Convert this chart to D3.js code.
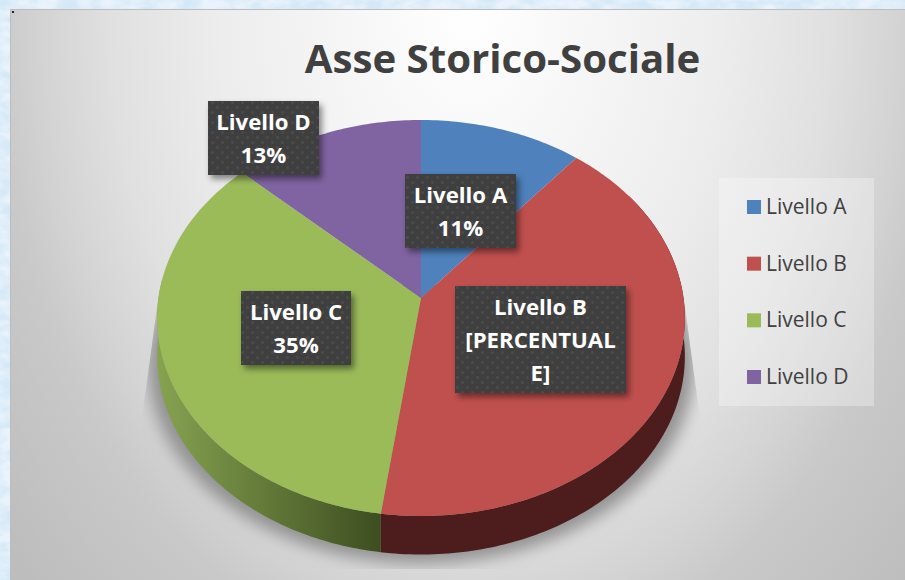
<!DOCTYPE html>
<html><head><meta charset="utf-8">
<script src="https://cdn.jsdelivr.net/npm/d3@7"></script>
<style>html,body{margin:0;padding:0;background:#d6e6f3;overflow:hidden}svg{display:block}</style>
</head><body><div id="c"></div>
<script>
const chartTitle = "Asse Storico-Sociale";
const categories = ["Livello A","Livello B","Livello C","Livello D"];
const values = [11,41.2,34.8,13];
const colors = ["#4f81bd","#c0504d","#9bbb59","#8064a2"];
const labelLines = [["Livello A","11%"],["Livello B","[PERCENTUAL","E]"],["Livello C","35%"],["Livello D","13%"]];
const labelBoxes = [[405,174,111,74],[455,286,171,107],[241,291,110,74],[208,101,111,74]];

const W=905,H=580;
const svg=d3.select("#c").append("svg").attr("width",W).attr("height",H);
const defs=svg.append("defs");
const FONT="'Open Sans', sans-serif";

// page texture
const tex=defs.append("filter").attr("id","tex").attr("x",0).attr("y",0).attr("width","100%").attr("height","100%");
tex.append("feTurbulence").attr("type","fractalNoise").attr("baseFrequency","0.05 0.09").attr("numOctaves",3).attr("seed",4);
tex.append("feColorMatrix").attr("values","0 0 0 0 0.66  0 0 0 0 0.81  0 0 0 0 0.93  2.4 0 0 0 -0.7");
svg.append("rect").attr("width",W).attr("height",H).attr("fill","#eaf3fb");
svg.append("rect").attr("width",W).attr("height",H).attr("filter","url(#tex)");

// panel
const pg=defs.append("radialGradient").attr("id","panel").attr("gradientUnits","userSpaceOnUse")
 .attr("cx",0).attr("cy",0).attr("r",1).attr("gradientTransform","translate(470,10) scale(600,840)");
[[0,"#ffffff"],[0.5,"#ededed"],[0.72,"#e0e0e0"],[0.85,"#d4d4d4"],[0.95,"#c9c9c9"],[1.2,"#bdbdbd"]].forEach(s=>pg.append("stop").attr("offset",s[0]/1.2).attr("stop-color",s[1]));
svg.append("rect").attr("x",10.5).attr("y",9.5).attr("width",W).attr("height",H).attr("fill","url(#panel)").attr("stroke","#bdbdbd");
svg.append("rect").attr("x",12).attr("y",11).attr("width",2).attr("height",2).attr("fill","#222");

// pie in perspective
const cx=421,cy=298,R=262.5,p=165.9,q=-0.101,depth=38.5;
const pie=d3.pie().sort(null)(values);
const xp=a=>{const u=Math.sin(a),v=-Math.cos(a);return cx+R*u/(1+q*v)};
const yp=a=>{const v=-Math.cos(a);return (cy+p*v)/(1+q*v)};
const samples=(a0,a1)=>{const n=Math.max(2,Math.ceil((a1-a0)*60));return d3.range(n+1).map(i=>a0+(a1-a0)*i/n)};
const line=d3.line().x(d=>d[0]).y(d=>d[1]);
const sector=d=>line([[cx,cy],...samples(d.startAngle,d.endAngle).map(a=>[xp(a),yp(a)])])+"Z";
const rimL=Math.PI*1.5+0.1;
const rim=(a0,a1)=>{const pts=samples(a0,a1).map(a=>[xp(a),yp(a)]);
  return line([...pts,...pts.slice().reverse().map(d=>[d[0],d[1]+depth])])+"Z"};

// ground shadow
const blur=defs.append("filter").attr("id","blur").attr("x","-20%").attr("y","-20%").attr("width","140%").attr("height","140%");
blur.append("feGaussianBlur").attr("stdDeviation",8);
defs.append("clipPath").attr("id","sc").append("path")
 .attr("d","M160,285L139,440L139,569L703,569L703,440L682,285Z");
svg.append("g").attr("clip-path","url(#sc)").append("path")
 .attr("d",line(samples(0,2*Math.PI).map(a=>[cx+(xp(a)-cx)*1.035,yp(a)+depth+9]))+"Z")
 .attr("fill","#929292").attr("filter","url(#blur)");

// rim
const gg=defs.append("linearGradient").attr("id","rimG").attr("gradientUnits","userSpaceOnUse")
 .attr("x1",157).attr("x2",382).attr("y1",0).attr("y2",0);
gg.append("stop").attr("offset",0).attr("stop-color","#86a350");
gg.append("stop").attr("offset",1).attr("stop-color","#3d4d20");
svg.append("path").attr("d",rim(pie[1].startAngle+0.3,pie[1].endAngle)).attr("fill","#4d1c1c");
svg.append("path").attr("d",rim(pie[2].startAngle,rimL)).attr("fill","url(#rimG)");

// top faces
svg.selectAll("path.s").data(pie).join("path").attr("class","s").attr("d",sector).attr("fill",(d,i)=>colors[i]);

// title
svg.append("text").attr("x",502.5).attr("y",73).attr("text-anchor","middle").attr("font-family",FONT)
 .attr("font-weight",700).attr("font-size",40.2).attr("fill","#404040").text(chartTitle);

// labels
const ds=defs.append("filter").attr("id","ds").attr("x","-15%").attr("y","-15%").attr("width","135%").attr("height","140%");
ds.append("feDropShadow").attr("dx",3).attr("dy",4).attr("stdDeviation",3).attr("flood-color","#000").attr("flood-opacity",0.45);
const pat=defs.append("pattern").attr("id","dots").attr("patternUnits","userSpaceOnUse").attr("width",10).attr("height",10);
pat.append("rect").attr("width",10).attr("height",10).attr("fill","#3f3f3f");
pat.append("circle").attr("cx",2.5).attr("cy",2.5).attr("r",1.5).attr("fill","#4b4b4b");
pat.append("circle").attr("cx",7.5).attr("cy",7.5).attr("r",1.5).attr("fill","#4b4b4b");
const lab=svg.selectAll("g.l").data(labelBoxes).join("g").attr("class","l");
lab.append("rect").attr("x",d=>d[0]).attr("y",d=>d[1]).attr("width",d=>d[2]).attr("height",d=>d[3]).attr("fill","#3f3f3f").attr("filter","url(#ds)");
lab.append("rect").attr("x",d=>d[0]).attr("y",d=>d[1]).attr("width",d=>d[2]).attr("height",d=>d[3]).attr("fill","url(#dots)");
lab.each(function(d,i){
  labelLines[i].forEach((t,j)=>d3.select(this).append("text").attr("x",d[0]+d[2]/2).attr("y",d[1]+29+j*33)
   .attr("text-anchor","middle").attr("font-family",FONT).attr("font-weight",700).attr("font-size",22.2).attr("fill","#fff").text(t));
});

// legend
svg.append("rect").attr("x",719).attr("y",178).attr("width",155).attr("height",228).attr("fill","#fff").attr("opacity",0.3);
const ly=d3.scalePoint().domain(categories).range([207,377]);
const lg=svg.selectAll("g.k").data(categories).join("g").attr("class","k");
lg.append("rect").attr("x",747).attr("y",d=>ly(d)-7).attr("width",14).attr("height",14).attr("fill",(d,i)=>colors[i]);
lg.append("text").attr("x",766).attr("y",d=>ly(d)+7).attr("font-family",FONT).attr("font-size",21).attr("fill","#404040").text(d=>d);
</script></body></html>
